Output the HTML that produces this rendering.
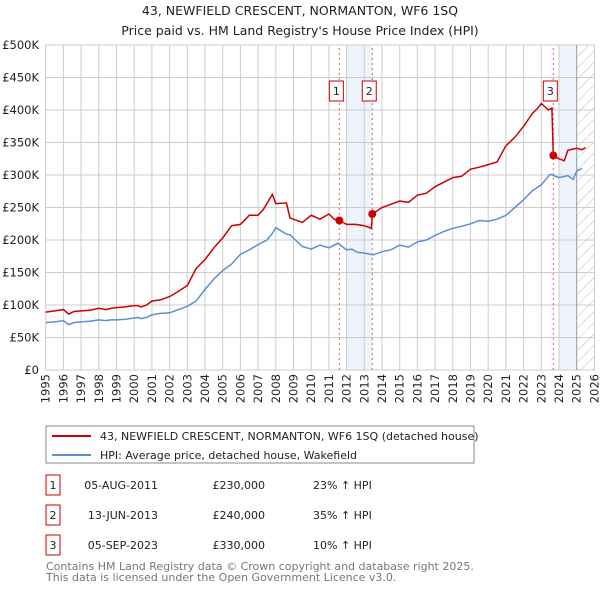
<!DOCTYPE html>
<html><head><meta charset="utf-8">
<style>
html,body{margin:0;padding:0;background:#fff;}
body{width:600px;height:590px;overflow:hidden;font-family:"DejaVu Sans","Liberation Sans",sans-serif;}
svg text{font-family:"DejaVu Sans","Liberation Sans",sans-serif;}
</style></head>
<body>
<svg id="chart" width="600" height="590" viewBox="0 0 600 590" xmlns="http://www.w3.org/2000/svg">
<text x="300" y="15" font-size="12.5" text-anchor="middle" fill="#222">43, NEWFIELD CRESCENT, NORMANTON, WF6 1SQ</text>
<text x="300" y="35" font-size="12.5" text-anchor="middle" fill="#222">Price paid vs. HM Land Registry's House Price Index (HPI)</text>
<defs><pattern id="hatch" patternUnits="userSpaceOnUse" width="8" height="8" patternTransform="rotate(45)"><line x1="0" y1="0" x2="0" y2="8" stroke="#bbb" stroke-width="1"/></pattern></defs>
<g id="plot"></g>
<rect x="46" y="426" width="428" height="37" fill="#fff" stroke="#888" stroke-width="1"/>
<line x1="52" y1="436" x2="91" y2="436" stroke="#cc0000" stroke-width="2"/>
<text x="100" y="440" font-size="11" fill="#222">43, NEWFIELD CRESCENT, NORMANTON, WF6 1SQ (detached house)</text>
<line x1="52" y1="455" x2="91" y2="455" stroke="#5b8fd4" stroke-width="2"/>
<text x="100" y="459" font-size="11" fill="#222">HPI: Average price, detached house, Wakefield</text>
<g font-size="11" fill="#222">
<rect x="46" y="475" width="14" height="20" fill="#fff" stroke="#cc0000"/><text x="53" y="489" text-anchor="middle">1</text>
<text x="158" y="489" text-anchor="end">05-AUG-2011</text><text x="265" y="489" text-anchor="end">£230,000</text><text x="313" y="489">23% ↑ HPI</text></g>
<g font-size="11" fill="#222">
<rect x="46" y="505" width="14" height="20" fill="#fff" stroke="#cc0000"/><text x="53" y="519" text-anchor="middle">2</text>
<text x="158" y="519" text-anchor="end">13-JUN-2013</text><text x="265" y="519" text-anchor="end">£240,000</text><text x="313" y="519">35% ↑ HPI</text></g>
<g font-size="11" fill="#222">
<rect x="46" y="535" width="14" height="20" fill="#fff" stroke="#cc0000"/><text x="53" y="549" text-anchor="middle">3</text>
<text x="158" y="549" text-anchor="end">05-SEP-2023</text><text x="265" y="549" text-anchor="end">£330,000</text><text x="313" y="549">10% ↑ HPI</text></g>
<text x="46" y="570" font-size="11" fill="#777">Contains HM Land Registry data © Crown copyright and database right 2025.</text>
<text x="46" y="581" font-size="11" fill="#777">This data is licensed under the Open Government Licence v3.0.</text>
</svg>
<script>
const hpiDates=[1995.0,1995.5,1996.0,1996.3,1996.6,1997.0,1997.5,1998.0,1998.4,1998.7,1999.0,1999.5,2000.0,2000.2,2000.4,2000.7,2001.0,2001.5,2002.0,2002.5,2003.0,2003.5,2004.0,2004.5,2005.0,2005.5,2006.0,2006.5,2007.0,2007.5,2007.8,2008.0,2008.6,2008.8,2009.5,2010.0,2010.5,2011.0,2011.5,2012.0,2012.3,2012.6,2013.0,2013.5,2014.0,2014.5,2015.0,2015.5,2016.0,2016.5,2017.0,2017.5,2018.0,2018.5,2019.0,2019.5,2020.0,2020.5,2021.0,2021.5,2022.0,2022.5,2023.0,2023.5,2024.0,2024.5,2024.8,2025.0,2025.3,2025.6];
const hpiValues=[73,74,76,70,73,74,75,77,76,77,77,78,80,81,79,81,85,87,88,93,98,106,124,140,153,163,178,185,193,200,210,219,209,208,190,186,192,188,195,185,186,181,180,177,182,185,192,189,197,200,207,213,218,221,225,230,229,232,238,250,262,276,285,301,296,299,293,306,310];
const ppDates=[1995.0,1995.5,1996.0,1996.3,1996.6,1997.0,1997.5,1998.0,1998.4,1998.7,1999.0,1999.5,2000.0,2000.2,2000.4,2000.7,2001.0,2001.5,2002.0,2002.5,2003.0,2003.5,2004.0,2004.5,2005.0,2005.5,2006.0,2006.5,2007.0,2007.3,2007.8,2008.0,2008.6,2008.8,2009.5,2010.0,2010.5,2011.0,2011.3,2011.59,2012.0,2012.5,2013.0,2013.4,2013.45,2014.0,2014.5,2015.0,2015.5,2016.0,2016.5,2017.0,2017.5,2018.0,2018.5,2019.0,2019.5,2020.0,2020.5,2021.0,2021.5,2022.0,2022.5,2022.8,2023.0,2023.4,2023.6,2023.68,2024.0,2024.3,2024.5,2025.0,2025.3,2025.5];
const ppValues=[89,91,93,86,90,91,92,95,93,95,96,97,99,99,97,100,106,108,113,121,130,156,170,188,203,222,224,238,238,247,270,256,257,234,227,238,232,240,232,230,224,224,222,218,240,250,255,260,258,269,272,282,289,296,298,309,312,316,320,345,358,375,395,403,410,400,403,330,325,322,338,341,339,342];
const saleDates=[2011.59,2013.45,2023.68];
const saleValues=[230,240,330];
const yTicks=[0,50,100,150,200,250,300,350,400,450,500];
const yTickLabels=['£0','£50K','£100K','£150K','£200K','£250K','£300K','£350K','£400K','£450K','£500K'];
const xYears=[1995,1996,1997,1998,1999,2000,2001,2002,2003,2004,2005,2006,2007,2008,2009,2010,2011,2012,2013,2014,2015,2016,2017,2018,2019,2020,2021,2022,2023,2024,2025,2026];
const X0=45.7,PX=17.7,Y0=370,PY=0.65;
function xs(d){return X0+(d-1995)*PX;}
function ys(v){return Y0-v*PY;}
const NS='http://www.w3.org/2000/svg';
const g=document.getElementById('plot');
function mk(t,a,p){const e=document.createElementNS(NS,t);for(const k in a)e.setAttribute(k,a[k]);(p||g).appendChild(e);return e;}
let e;
e=mk('rect',{x:xs(2012),y:ys(500),width:xs(2013.45)-xs(2012),height:ys(0)-ys(500),fill:'#eef3fc'});


e=mk('rect',{x:xs(2024),y:ys(500),width:xs(2025)-xs(2024),height:ys(0)-ys(500),fill:'#eef3fc'});


e=mk('rect',{x:xs(2025),y:ys(500),width:xs(2026)-xs(2025),height:ys(0)-ys(500),fill:'url(#hatch)'});


yTicks.forEach((v,i)=>{
 e=mk('line',{x1:xs(1995),x2:xs(2026),y1:ys(v),y2:ys(v),stroke:'#ccc','stroke-width':1});
 
 
 e=mk('text',{x:39,y:ys(v)+4,'font-size':11.5,'text-anchor':'end',fill:'#222'});
 e.textContent=yTickLabels[i];
 
 
});
xYears.forEach(yr=>{
 e=mk('line',{x1:xs(yr),x2:xs(yr),y1:ys(0),y2:ys(500),stroke:yr==2025?'#999':'#ccc','stroke-width':1});
 
 
 e=mk('text',{x:0,y:0,'font-size':11.5,'text-anchor':'end',fill:'#222',transform:'translate('+(xs(yr)+4)+',374) rotate(-90)'});
 e.textContent=String(yr);
 
 
});
saleDates.forEach((d,i)=>{
 e=mk('line',{x1:xs(d),x2:xs(d),y1:ys(0),y2:ys(500),stroke:'#e06070','stroke-width':1,'stroke-dasharray':'2,3'});
 
 
});
function path(ds,vs){return ds.map((d,i)=>(i?'L':'M')+xs(d).toFixed(1)+','+ys(vs[i]).toFixed(1)).join(' ');}
e=mk('path',{d:path(hpiDates,hpiValues),fill:'none',stroke:'#5b8fd4','stroke-width':1.5});


e=mk('path',{d:path(ppDates,ppValues),fill:'none',stroke:'#cc0000','stroke-width':1.5});


saleDates.forEach((d,i)=>{
 e=mk('circle',{cx:xs(d),cy:ys(saleValues[i]),r:4,fill:'#cc0000'});
 
 
 e=mk('rect',{x:xs(d)-10,y:81,width:14,height:20,fill:'#fff',stroke:'#cc0000'});
 
 
 e=mk('text',{x:xs(d)-3,y:95,'font-size':11,'text-anchor':'middle',fill:'#222'});
 e.textContent=String(i+1);
 
 
});
</script>
</body></html>
